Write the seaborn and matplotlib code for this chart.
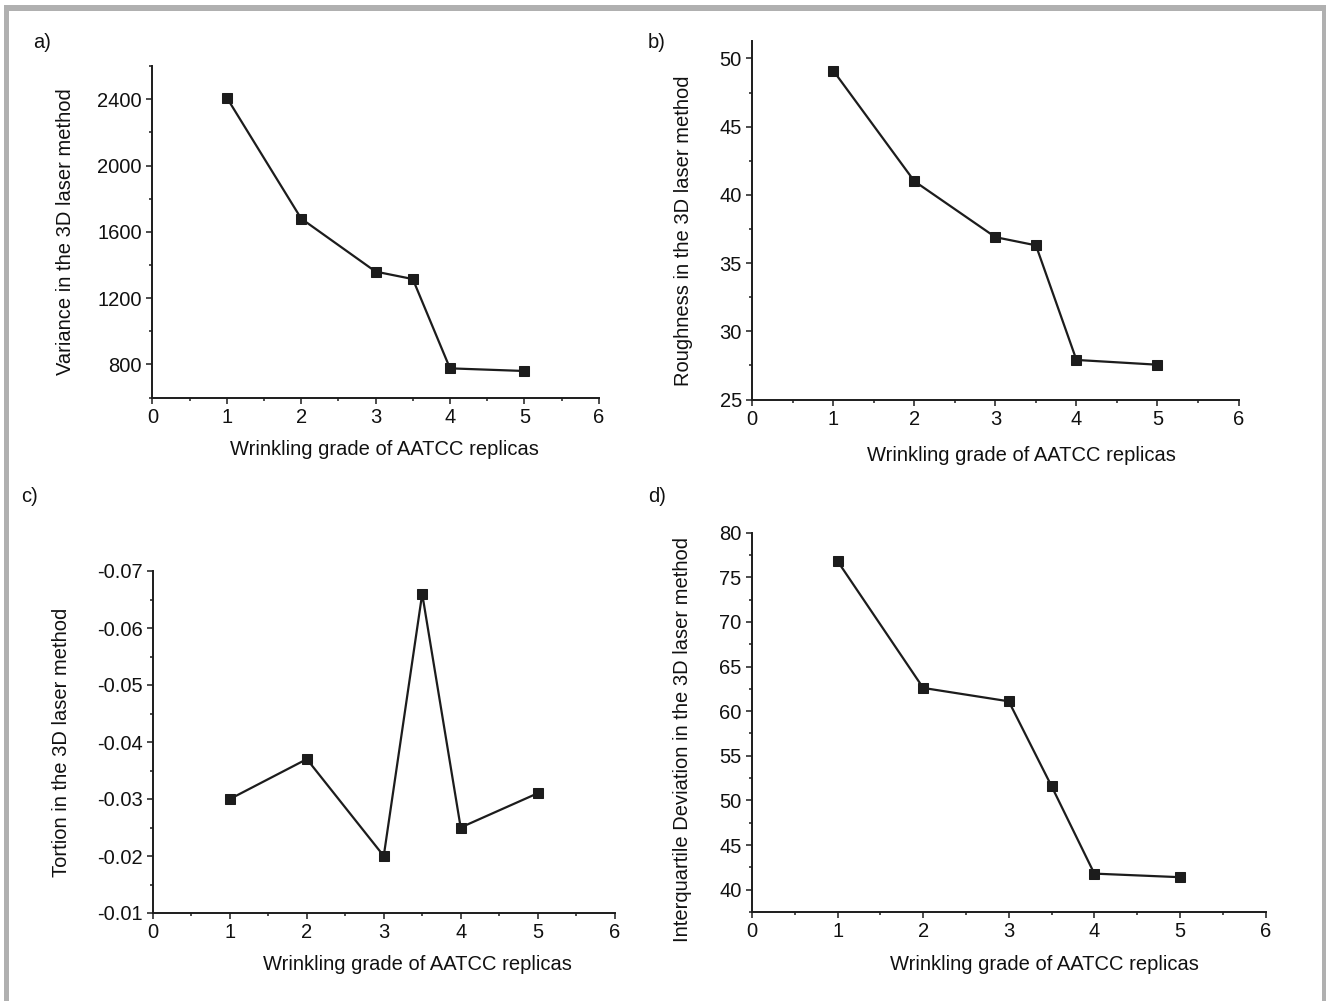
import matplotlib
matplotlib.use("Agg")
import matplotlib.pyplot as plt
from matplotlib.patches import Rectangle
from matplotlib.ticker import MultipleLocator
import seaborn as sns

# grades of the AATCC replicas
grade = [1, 2, 3, 3.5, 4, 5]

# a) variance, b) roughness, c) tortion, d) interquartile deviation
variance = [2410, 1680, 1360, 1315, 776, 760]
roughness = [49.1, 41.0, 36.9, 36.3, 27.9, 27.55]
tortion = [-0.030, -0.037, -0.020, -0.066, -0.025, -0.031]
iqd = [76.8, 62.6, 61.1, 51.6, 41.8, 41.4]

xlab = "Wrinkling grade of AATCC replicas"
ylabs = ["Variance in the 3D laser method",
         "Roughness in the 3D laser method",
         "Tortion in the 3D laser method",
         "Interquartile Deviation in the 3D laser method"]
letters = ["a)", "b)", "c)", "d)"]

sns.set_style("ticks")
plt.rcParams['font.family'] = ['Liberation Sans', 'DejaVu Sans']

W, H = 1326, 1001
fig = plt.figure(figsize=(W / 100, H / 100), dpi=100)

# axes boxes in pixels: left, right, top, bottom
boxes = [(152.4, 598.8, 66.2, 397.5),
         (752.3, 1238.5, 40.7, 399.5),
         (153.0, 614.5, 571.0, 913.0),
         (752.0, 1265.5, 532.6, 912.0)]
series = [variance, roughness, tortion, iqd]
ylims = [(600, 2600), (25, 51.3), (-0.01, -0.07), (37.5, 80)]
ymaj = [400, 5, 0.01, 5]
ymin = [200, 2.5, 0.005, 2.5]
xlab_pos = [0.52, 0.553, 0.572, 0.57]
xlab_off = [52, 56, 52, 53]
ylab_off = [87, 69, 91, 70]
ylab_y = [0.5, 0.47, 0.5, 0.455]
letter_pos = [(33, 43), (648, 43), (21, 496), (648, 496)]

ink = '#1c1c1c'
for i in range(4):
    l, r, t, b = boxes[i]
    ax = fig.add_axes([l / W, 1 - b / H, (r - l) / W, (b - t) / H])
    sns.lineplot(x=grade, y=series[i], ax=ax, color=ink, marker='s',
                 markersize=7.5, markeredgecolor=ink, linewidth=1.6)
    ax.set_xlim(0, 6)
    ax.set_ylim(*ylims[i])
    ax.xaxis.set_major_locator(MultipleLocator(1))
    ax.xaxis.set_minor_locator(MultipleLocator(0.5))
    ax.yaxis.set_major_locator(MultipleLocator(ymaj[i]))
    ax.yaxis.set_minor_locator(MultipleLocator(ymin[i]))
    if i == 2:
        ax.yaxis.set_major_formatter(lambda v, p: "%.2f" % v)
    ax.tick_params(which='major', length=4, width=1.1, pad=3.5,
                   labelsize=14.5, color=ink, labelcolor='#111111')
    ax.tick_params(which='minor', length=2.2, width=1.1, color=ink)
    sns.despine(ax=ax)
    for s in ['left', 'bottom']:
        ax.spines[s].set_linewidth(1.4)
        ax.spines[s].set_color(ink)
    ax.set_xlabel(xlab, fontsize=14.5, color='#111111')
    ax.set_ylabel(ylabs[i], fontsize=14.5, color='#111111')
    ax.xaxis.label.set_verticalalignment('center')
    ax.yaxis.label.set_verticalalignment('center')
    ax.xaxis.set_label_coords(xlab_pos[i], -xlab_off[i] / (b - t))
    ax.yaxis.set_label_coords(-ylab_off[i] / (r - l), ylab_y[i])
    fig.text(letter_pos[i][0] / W, 1 - letter_pos[i][1] / H, letters[i],
             fontsize=14.5, color='#111111', va='center', ha='left')

# grey frame round the figure (top, left, right)
grey = '#b0b0b0'
fig.add_artist(Rectangle((4 / W, 1 - 10.5 / H), (1326 - 4) / W, 5 / H,
                         transform=fig.transFigure, color=grey, lw=0))
fig.add_artist(Rectangle((4 / W, 0), 4.5 / W, 1 - 6 / H,
                         transform=fig.transFigure, color=grey, lw=0))
fig.add_artist(Rectangle((1321.5 / W, 0), 4.5 / W, 1 - 6 / H,
                         transform=fig.transFigure, color=grey, lw=0))

fig.savefig("out.png", dpi=100)
